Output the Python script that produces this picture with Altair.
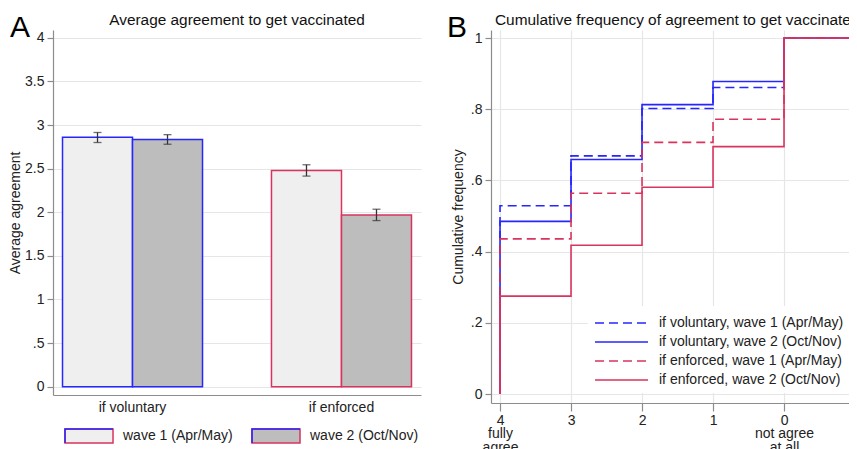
import altair as alt
import pandas as pd

FONT = "Liberation Sans"
BLUE = "#2626ff"
RED = "#d8345d"
TXT = "#222222"

# ---------- panel A data ----------
categories = ["if voluntary", "if enforced"]
waves = ["wave 1 (Apr/May)", "wave 2 (Oct/Nov)"]
mean_w1 = [2.86, 2.48]
mean_w2 = [2.835, 1.97]
lo_w1 = [2.80, 2.415]
hi_w1 = [2.915, 2.545]
lo_w2 = [2.78, 1.905]
hi_w2 = [2.89, 2.035]
y_ticks_a = [0, 0.5, 1, 1.5, 2, 2.5, 3, 3.5, 4]

# ---------- panel B data ----------
levels = [4, 3, 2, 1, 0]
level_end = -1
level_labels = [["4", "fully", "agree"], ["3"], ["2"], ["1"], ["0", "not agree", "at all"]]
series_names = [
    "if voluntary, wave 1 (Apr/May)",
    "if voluntary, wave 2 (Oct/Nov)",
    "if enforced, wave 1 (Apr/May)",
    "if enforced, wave 2 (Oct/Nov)",
]
cum_vol_w1 = [0.529, 0.669, 0.802, 0.861, 1.0]
cum_vol_w2 = [0.485, 0.659, 0.813, 0.878, 1.0]
cum_enf_w1 = [0.436, 0.564, 0.707, 0.772, 1.0]
cum_enf_w2 = [0.275, 0.418, 0.581, 0.695, 1.0]
y_ticks_b = [0, 0.2, 0.4, 0.6, 0.8, 1]

# ---------- build tables ----------
rows = []
for i, c in enumerate(categories):
    rows.append(dict(cat=c, wave=waves[0], wave_b=waves[0], mean=mean_w1[i], lo=lo_w1[i], hi=hi_w1[i]))
    rows.append(dict(cat=c, wave=waves[1], wave_b=waves[1], mean=mean_w2[i], lo=lo_w2[i], hi=hi_w2[i]))
bars_df = pd.DataFrame(rows)

lrows = []
for name, vals in zip(series_names, [cum_vol_w1, cum_vol_w2, cum_enf_w1, cum_enf_w2]):
    lrows.append(dict(series=name, idx=0, lvl=levels[0], cum=0.0))
    for k, (lv, v) in enumerate(zip(levels, vals)):
        lrows.append(dict(series=name, idx=k + 1, lvl=lv, cum=v))
    lrows.append(dict(series=name, idx=len(levels) + 1, lvl=level_end, cum=vals[-1]))
lines_df = pd.DataFrame(lrows)

# ---------- panel A ----------
W_A, H_A = 368, 365
x_a = alt.X("cat:N", sort=categories, title=None,
            scale=alt.Scale(paddingInner=0.33, paddingOuter=0.0455),
            axis=alt.Axis(labelAngle=0, ticks=False, labelPadding=5, grid=False))
xo_a = alt.XOffset("wave:N", sort=waves, scale=alt.Scale(paddingInner=0, paddingOuter=0))
y_scale_a = alt.Scale(domain=[-0.095, 4.09], nice=False, zero=False)
y_a = alt.Y("mean:Q", scale=y_scale_a,
            axis=alt.Axis(values=y_ticks_a, title="Average agreement",
                          labelExpr="datum.value == 0.5 ? '.5' : format(datum.value, '~g')",
                          tickSize=6, labelPadding=3, titlePadding=2, grid=True))

rect_path = "M-1,-1H5.86V1H-1Z"
tl_path = "M-1,1V-1H5.86"
leg_common = dict(orient="none", legendX=11, legendY=398, direction="horizontal", title=None,
                  labelFontSize=14, labelFont=FONT, labelColor=TXT, symbolSize=196,
                  labelOffset=43, columnPadding=16, padding=0, labelLimit=400)

base_a = alt.Chart(bars_df)
bars = base_a.mark_bar(strokeWidth=1.5).encode(
    x=x_a, xOffset=xo_a, y=y_a, y2=alt.datum(0),
    fill=alt.Fill("wave:N", scale=alt.Scale(domain=waves, range=["#efefef", "#bdbdbd"]),
                  legend=alt.Legend(symbolType=rect_path, symbolStrokeColor=RED,
                                    symbolStrokeWidth=1.5, **leg_common)),
    stroke=alt.Stroke("cat:N", scale=alt.Scale(domain=categories, range=[BLUE, RED]), legend=None),
)
# clipped-away points that only feed the blue-edged overlay of the legend swatches
leg_pts = base_a.mark_point(opacity=1, filled=False, clip=True).encode(
    x=x_a, xOffset=xo_a, y=alt.Y(datum=-1.0, scale=y_scale_a),
    shape=alt.Shape("wave_b:N", scale=alt.Scale(range=[tl_path, tl_path]),
                    legend=alt.Legend(symbolStrokeColor=BLUE, symbolFillColor="transparent",
                                      symbolStrokeWidth=1.5, symbolOpacity=1, labelOpacity=0,
                                      **leg_common)),
)
err_rule = base_a.mark_rule(color="#333333", strokeWidth=1.3).encode(
    x=x_a, xOffset=xo_a, y=alt.Y("lo:Q", scale=y_scale_a), y2="hi:Q")
cap_lo = base_a.mark_tick(color="#333333", size=8, thickness=1.3).encode(
    x=x_a, xOffset=xo_a, y=alt.Y("lo:Q", scale=y_scale_a))
cap_hi = base_a.mark_tick(color="#333333", size=8, thickness=1.3).encode(
    x=x_a, xOffset=xo_a, y=alt.Y("hi:Q", scale=y_scale_a))

title_a = alt.Chart(pd.DataFrame({"t": ["Average agreement to get vaccinated"]})).mark_text(
    fontSize=15.4, align="center", baseline="alphabetic", color="#111111", font=FONT
).encode(text="t:N", x=alt.value(W_A / 2), y=alt.value(-5))
letter_a = alt.Chart(pd.DataFrame({"t": ["A"]})).mark_text(
    fontSize=30, align="left", baseline="alphabetic", color="#000000", font=FONT
).encode(text="t:N", x=alt.value(-43), y=alt.value(7))

panel_a = alt.layer(bars, leg_pts, err_rule, cap_lo, cap_hi, title_a, letter_a).properties(
    width=W_A, height=H_A)

# ---------- panel B ----------
W_B, H_B = 358, 373
lab_expr = ""
for lv, lab in zip(levels, level_labels):
    arr = "[" + ",".join("'" + s + "'" for s in lab) + "]"
    lab_expr += f"datum.value == {lv} ? {arr} : "
lab_expr += "''"

x_lo = 4.127 - W_B / 71.0
x_b = alt.X("lvl:Q", title=None,
            scale=alt.Scale(domain=[x_lo, 4.127], reverse=True, nice=False, zero=False),
            axis=alt.Axis(values=levels, labelExpr=lab_expr, grid=True,
                          tickSize=8, labelPadding=2, labelLineHeight=13.5))
y_b = alt.Y("cum:Q", title="Cumulative frequency",
            scale=alt.Scale(domain=[-0.025, 1.0225], nice=False, zero=False),
            axis=alt.Axis(values=y_ticks_b, grid=True, tickSize=6, labelPadding=3, titlePadding=5,
                          labelExpr="datum.value == 0 ? '0' : datum.value == 1 ? '1' : "
                                    "replace(format(datum.value, '.1f'), '0.', '.')"))
leg_b = dict(orient="none", legendX=97, legendY=276, title=None, fillColor="white", padding=6,
             symbolType="M-1,0H4.3", symbolSize=400, symbolStrokeWidth=1.6, labelOffset=43,
             rowPadding=1, labelFontSize=14, labelFont=FONT, labelColor=TXT, labelLimit=400)
lines = alt.Chart(lines_df).mark_line(interpolate="step-after", strokeWidth=1.6, clip=True).encode(
    x=x_b, y=y_b,
    color=alt.Color("series:N", sort=series_names,
                    scale=alt.Scale(domain=series_names, range=[BLUE, BLUE, RED, RED]),
                    legend=alt.Legend(**leg_b)),
    strokeDash=alt.StrokeDash("series:N", sort=series_names,
                              scale=alt.Scale(domain=series_names,
                                              range=[[9, 5], [1, 0], [9, 5], [1, 0]]),
                              legend=alt.Legend(**leg_b)),
    order=alt.Order("idx:Q"),
)
title_b = alt.Chart(pd.DataFrame({"t": ["Cumulative frequency of agreement to get vaccinated"]})).mark_text(
    fontSize=15.4, align="left", baseline="alphabetic", color="#111111", font=FONT
).encode(text="t:N", x=alt.value(4), y=alt.value(-5))
letter_b = alt.Chart(pd.DataFrame({"t": ["B"]})).mark_text(
    fontSize=30, align="left", baseline="alphabetic", color="#000000", font=FONT
).encode(text="t:N", x=alt.value(-44), y=alt.value(7))

panel_b = alt.layer(lines, title_b, letter_b).properties(width=W_B, height=H_B)

chart = alt.hconcat(panel_a, panel_b, spacing=70, bounds="flush").resolve_scale(
    fill="independent", shape="independent", stroke="independent",
    color="independent", strokeDash="independent"
).resolve_legend(
    fill="independent", shape="independent", color="independent", strokeDash="independent"
).properties(
    autosize=alt.AutoSizeParams(type="none"),
    padding={"left": 45, "top": 22, "right": 796, "bottom": 430},
).configure(font=FONT).configure_view(stroke=None).configure_axis(
    domainColor="#8c8c8c", tickColor="#8c8c8c", gridColor="#e6e6e6", gridWidth=1.2,
    domainWidth=1.2, tickWidth=1.2, labelColor=TXT, labelFontSize=14, titleFontSize=14,
    titleFontWeight="normal", titleColor=TXT, labelFont=FONT, titleFont=FONT,
)

chart.save("out.html", embed_options={"renderer": "svg", "actions": False})
